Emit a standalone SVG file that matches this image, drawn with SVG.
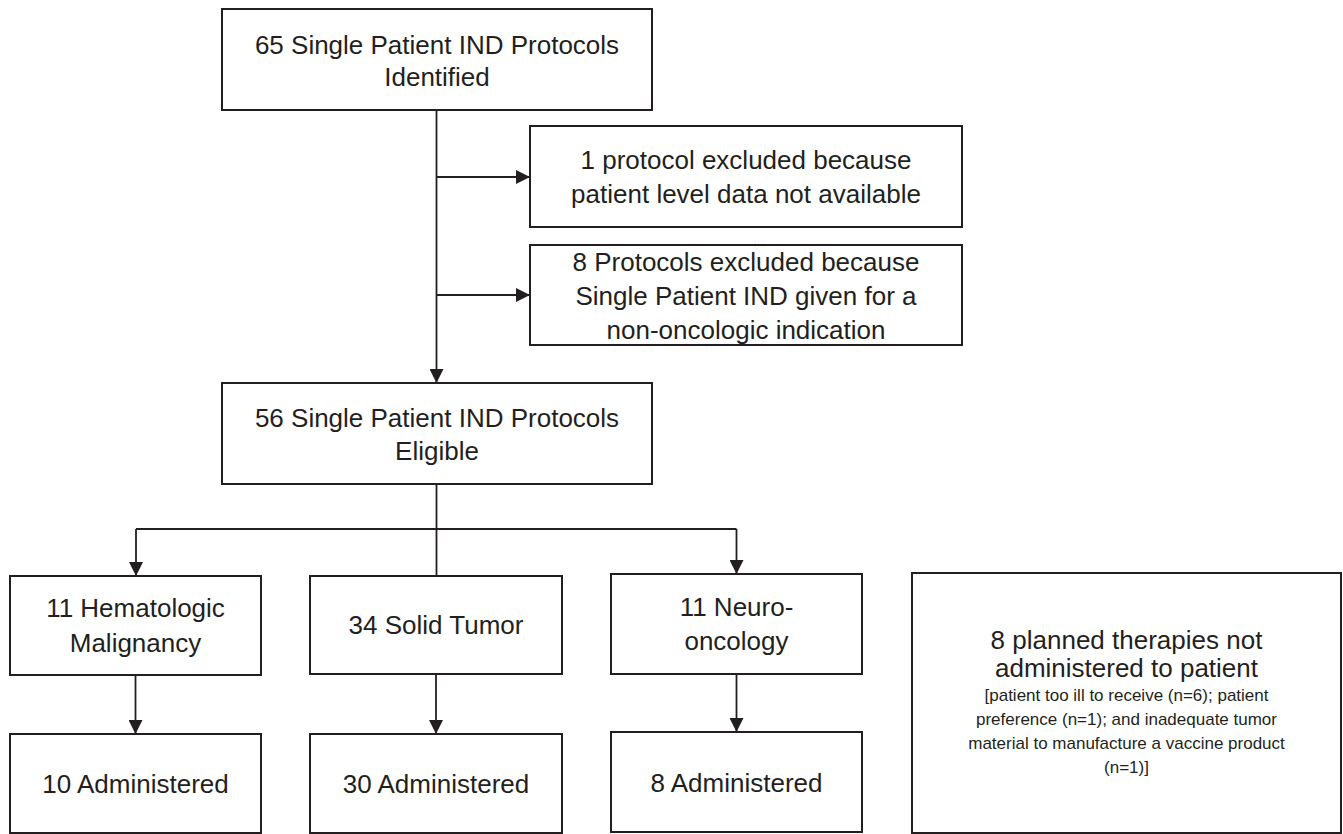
<svg xmlns="http://www.w3.org/2000/svg" width="1343" height="834" viewBox="0 0 1343 834">
<defs>
<style>
.box{fill:#ffffff;stroke:#231f20;stroke-width:2}
.t{font-family:"Liberation Sans",Arial,sans-serif;font-size:26px;fill:#231f20;text-anchor:middle}
.s{font-family:"Liberation Sans",Arial,sans-serif;font-size:17px;fill:#231f20;text-anchor:middle}
.c{fill:none;stroke:#231f20;stroke-width:1.8}
</style>
<marker id="ah" markerUnits="userSpaceOnUse" markerWidth="14" markerHeight="14" viewBox="0 0 12 12" refX="12" refY="6" orient="auto">
<path d="M0,0 L12,6 L0,12 Z" fill="#231f20"/>
</marker>
</defs>
<rect width="1343" height="834" fill="#ffffff"/>
<g id="connectors">
<line class="c" x1="436.5" y1="110" x2="436.5" y2="383" marker-end="url(#ah)"/>
<line class="c" x1="436.5" y1="177" x2="530" y2="177" marker-end="url(#ah)"/>
<line class="c" x1="436.5" y1="295" x2="530" y2="295" marker-end="url(#ah)"/>
<polyline class="c" points="436.5,484 436.5,576"/>
<polyline class="c" points="136,529 736.5,529"/>
<line class="c" x1="136" y1="529" x2="136" y2="576" marker-end="url(#ah)"/>
<line class="c" x1="736.5" y1="529" x2="736.5" y2="574" marker-end="url(#ah)"/>
<line class="c" x1="135.5" y1="675" x2="135.5" y2="734" marker-end="url(#ah)"/>
<line class="c" x1="436" y1="674" x2="436" y2="734" marker-end="url(#ah)"/>
<line class="c" x1="736.5" y1="674" x2="736.5" y2="732" marker-end="url(#ah)"/>
</g>
<g id="identified">
<rect class="box" x="222" y="9" width="430" height="101"/>
<text class="t" x="437" y="54">65 Single Patient IND Protocols</text>
<text class="t" x="437" y="86">Identified</text>
</g>
<g id="excluded1">
<rect class="box" x="530" y="126" width="432" height="101"/>
<text class="t" x="746" y="169">1 protocol excluded because</text>
<text class="t" x="746" y="203">patient level data not available</text>
</g>
<g id="excluded8">
<rect class="box" x="530" y="245" width="432" height="100"/>
<text class="t" x="746" y="271">8 Protocols excluded because</text>
<text class="t" x="746" y="305">Single Patient IND given for a</text>
<text class="t" x="746" y="339">non-oncologic indication</text>
</g>
<g id="eligible">
<rect class="box" x="222" y="383" width="430" height="101"/>
<text class="t" x="437" y="427">56 Single Patient IND Protocols</text>
<text class="t" x="437" y="460">Eligible</text>
</g>
<g id="hematologic">
<rect class="box" x="10" y="576" width="251" height="99"/>
<text class="t" x="135.5" y="617">11 Hematologic</text>
<text class="t" x="135.5" y="652">Malignancy</text>
</g>
<g id="solid">
<rect class="box" x="310" y="576" width="252" height="98"/>
<text class="t" x="436" y="634">34 Solid Tumor</text>
</g>
<g id="neuro">
<rect class="box" x="611" y="574" width="251" height="100"/>
<text class="t" x="736.5" y="616">11 Neuro-</text>
<text class="t" x="736.5" y="650">oncology</text>
</g>
<g id="admin10">
<rect class="box" x="10" y="734" width="251" height="99"/>
<text class="t" x="135.5" y="793">10 Administered</text>
</g>
<g id="admin30">
<rect class="box" x="310" y="734" width="252" height="99"/>
<text class="t" x="436" y="793">30 Administered</text>
</g>
<g id="admin8">
<rect class="box" x="611" y="732" width="251" height="100"/>
<text class="t" x="736.5" y="792">8 Administered</text>
</g>
<g id="notadministered">
<rect class="box" x="912" y="573" width="429" height="260"/>
<text class="t" x="1126.5" y="649">8 planned therapies not</text>
<text class="t" x="1126.5" y="677">administered to patient</text>
<text class="s" x="1126.5" y="701">[patient too ill to receive (n=6); patient</text>
<text class="s" x="1126.5" y="725">preference (n=1); and inadequate tumor</text>
<text class="s" x="1126.5" y="749">material to manufacture a vaccine product</text>
<text class="s" x="1126.5" y="773">(n=1)]</text>
</g>
</svg>
